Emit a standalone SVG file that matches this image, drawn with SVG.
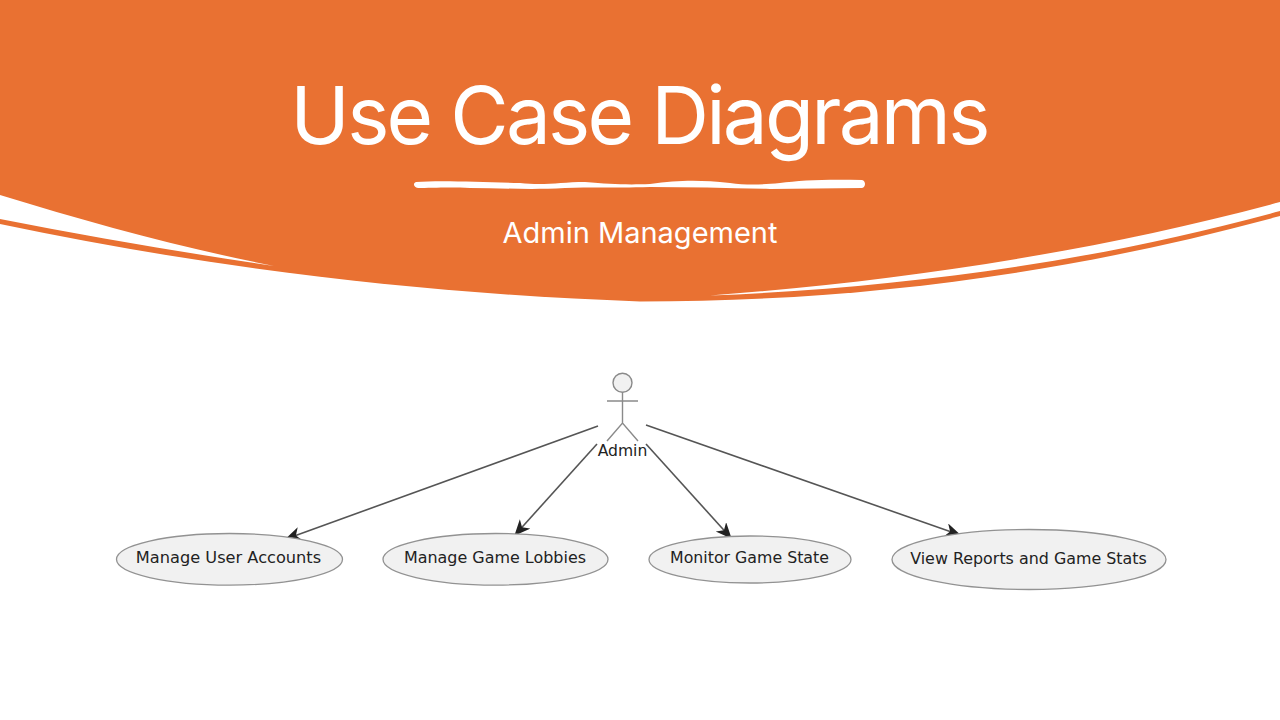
<svg xmlns="http://www.w3.org/2000/svg" width="1280" height="720" viewBox="0 0 1280 720">
<style>
.o{fill:#E97132}
.uc{fill:#F1F1F1;stroke:#929292;stroke-width:1.3}
.a{stroke:#8a8a8a;stroke-width:1.4;fill:none}
.l{font-family:"DejaVu Sans",sans-serif;fill:#222;text-anchor:middle}
.c{stroke:#555;stroke-width:1.600;fill:none;marker-end:url(#h)}
.t{font-family:Inter,sans-serif;fill:#fff;text-anchor:middle}
</style>
<defs><marker id="h" markerUnits="userSpaceOnUse" markerWidth="20" markerHeight="16" refX="15" refY="7" orient="auto"><path d="M0 0L16 7L0 14L4.500 7Z" fill="#222"/></marker></defs>
<rect width="1280" height="720" fill="#fff"/>
<g id="banner">
<path class="o" d="M0 0H1280V216C1060 276 853 301.500 640 301.500C427 294 213 269 0 224Z"/>
<path fill="#fff" d="M0 195C91 223 183 248 274 266C183 252.500 91 237 0 219Z"/>
<path fill="#fff" d="M1280 202C1090 253 900 281 710 295.500C900 288 1090 263 1280 211Z"/>
<path fill="#fff" d="M416 182C440 180 480 182 520 183C545 186 560 182 585 182C610 184 625 185 650 184C680 180 700 180 730 183C745 185 760 185 780 183C800 180 830 179 862 180C866 181 866 187 862 188C830 188 800 189 770 189C730 188 690 187 650 187C610 188 590 187 565 188C530 190 500 188 470 188C450 187 430 188 418 188C413 187 413 183 416 182Z"/>
</g>
<g id="title"><text class="t" x="639" y="144" font-size="80" font-weight="400" letter-spacing="-2.750">Use Case Diagrams</text>
<text class="t" x="640" y="243" font-size="29" font-weight="400">Admin Management</text></g>
<g id="connectors">
<path class="c" d="M598 426L286 539"/>
<path class="c" d="M597 444L515 535"/>
<path class="c" d="M646 444L731 538"/>
<path class="c" d="M646 425L960 535"/>
</g>
<g id="admin">
<circle cx="622.500" cy="382.700" r="9.500" fill="#F1F1F1" stroke="#8a8a8a" stroke-width="1.400"/>
<path class="a" d="M622.500 392V423M607 401H638M607 441L622.500 423L638 441"/>
<text class="l" x="622.500" y="456" font-size="15.600">Admin</text>
</g>
<g id="uc1"><ellipse class="uc" cx="229.500" cy="559.300" rx="113" ry="25.800"/><text class="l" x="228.500" y="562.500" font-size="16.200">Manage User Accounts</text></g>
<g id="uc2"><ellipse class="uc" cx="495.500" cy="559.300" rx="112.500" ry="25.800"/><text class="l" x="495" y="562.500" font-size="15.950">Manage Game Lobbies</text></g>
<g id="uc3"><ellipse class="uc" cx="750" cy="559.500" rx="101" ry="23.500"/><text class="l" x="749.500" y="563" font-size="15.800">Monitor Game State</text></g>
<g id="uc4"><ellipse class="uc" cx="1029" cy="559.500" rx="137" ry="30"/><text class="l" x="1028.500" y="564" font-size="15.900">View Reports and Game Stats</text></g>
</svg>
